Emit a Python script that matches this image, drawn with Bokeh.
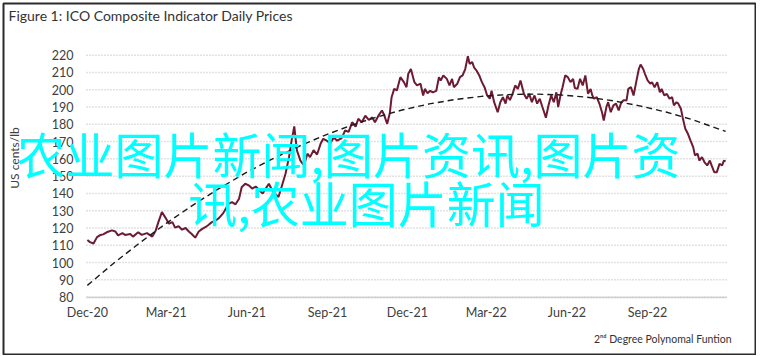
import math
import pandas as pd
from bokeh.plotting import figure
from bokeh.models import Range1d, FixedTicker, Legend, LegendItem, ColumnDataSource, Label
from bokeh.embed import file_html
from bokeh.resources import INLINE

# ---------------- data ----------------
start_date = "2020-12-01"
tick_dates = ["2020-12-01", "2021-03-01", "2021-06-01", "2021-09-01",
              "2021-12-01", "2022-03-01", "2022-06-01", "2022-09-01"]
tick_labels = ["Dec-20", "Mar-21", "Jun-21", "Sep-21",
               "Dec-21", "Mar-22", "Jun-22", "Sep-22"]
y_ticks = [80, 90, 100, 110, 120, 130, 140, 150, 160, 170, 180, 190, 200, 210, 220]

# days since start_date, ICO composite daily price (US cents/lb)
price_day = [0, 3, 7, 11, 15, 18, 22, 28, 32, 35, 40, 43, 49, 52, 58, 62, 68, 74, 78, 81,
             85, 89, 93, 97, 100, 104, 108, 112, 116, 119, 123, 127, 131, 135, 138, 142, 146, 150, 155, 161,
             165, 169, 173, 176, 180, 184, 188, 192, 196, 200, 203, 207, 212, 218, 222, 226, 230, 233, 236, 239,
             243, 247, 251, 254, 258, 262, 266, 269, 273, 277, 281, 285, 290, 294, 298, 302, 306, 309, 313, 317,
             321, 325, 328, 332, 336, 338, 342, 345, 347, 350, 353, 357, 361, 364, 366, 369, 373, 376, 380, 383,
             385, 388, 391, 394, 398, 401, 403, 406, 410, 413, 416, 418, 422, 425, 428, 431, 434, 436, 439, 441,
             444, 447, 450, 453, 456, 459, 461, 464, 468, 471, 474, 477, 479, 482, 485, 488, 491, 494, 496, 498,
             501, 504, 507, 510, 513, 516, 519, 521, 523, 526, 529, 532, 535, 537, 540, 542, 545, 548, 551, 554,
             556, 559, 562, 565, 568, 571, 574, 576, 578, 581, 584, 587, 589, 592, 594, 597, 600, 603, 606, 609,
             612, 615, 617, 620, 623, 626, 629, 631, 634, 636, 639, 642, 644, 647, 650, 653, 655, 658, 661, 664,
             667, 669, 672, 674, 677, 679, 682, 685, 688, 691, 693, 696, 698, 701, 704, 707, 710, 712, 715, 718,
             721, 724, 726, 728]
price = [113, 111.8, 111, 114.7, 116, 116.3, 117.5, 118.6, 118, 115.7, 117, 116, 116.5, 115, 117.5, 116, 117, 115, 118.6, 123.4,
         129.2, 126, 122.5, 123.4, 120.2, 121, 119, 120, 117.8, 116.5, 114.4, 118, 119.5, 120.6, 121.7, 123.4, 124.2, 125.7, 128.6, 134,
         135, 133.7, 136.9, 143.6, 145.6, 144.7, 142.8, 144, 142, 140, 142.5, 145.6, 140.7, 137.9, 144.6, 151.4, 161, 170.7, 178.8, 164.9,
         159, 156.2, 163, 161, 165, 162.5, 168.7, 171.6, 170.5, 169, 172.3, 170.5, 172, 176.4, 175.6, 181.2, 178.6, 183.2, 181.2, 185,
         182.5, 184, 181.2, 185, 188, 186, 180.3, 186.5, 195.7, 200.5, 199.6, 207.3, 204.4, 201.5, 209.2, 212, 204.4, 202.5, 203.5, 196.7,
         200.5, 198, 199.4, 198.5, 199.4, 207.3, 205.4, 208.3, 206.3, 202.5, 206.3, 201.5, 203.5, 207.3, 208.3, 212, 219.4, 215, 216, 213,
         211, 208.3, 204.4, 201.5, 196.7, 194.8, 199.4, 192.8, 187, 192.8, 195.7, 192, 196.7, 194, 197.6, 202.5, 200.5, 205.4, 201.5, 197.6,
         194.8, 197.6, 192.8, 196.7, 192, 194.8, 190, 187, 183.8, 191, 196.7, 192.8, 198.5, 190, 197.6, 201.5, 208.3, 207.3, 204.4, 206.3,
         201, 200.5, 206.3, 202.5, 208.3, 197.7, 200.5, 196.7, 194.8, 195.7, 192, 187, 182.2, 190, 192.8, 187, 191, 192, 188, 192.8,
         194, 193.8, 200.5, 201.5, 196.7, 204.4, 212, 214.6, 212, 209.2, 205.4, 203.5, 204.4, 201.5, 204.4, 198.5, 200.5, 196.7, 197.6, 194.8,
         195.7, 191, 192.8, 192, 189, 184, 177.4, 174.5, 170.5, 166.8, 162, 163, 159, 161, 158, 156.2, 159, 156.2, 152.3, 152.3,
         157.1, 156.2, 159, 158.5]

# 2nd degree polynomial trend
trend_day = [0, 30, 60, 90, 120, 150, 180, 210, 240, 270, 300, 330, 360, 390, 420, 450, 480, 510, 540,
             570, 600, 630, 660, 690, 728]
trend = [86.8, 99.6, 111.5, 122.7, 133.1, 142.8, 151.7, 159.7, 167.0, 173.5, 179.2, 184.2, 188.4, 191.8,
         194.4, 196.2, 197.2, 197.5, 197.0, 195.7, 193.6, 190.7, 187.1, 182.7, 175.9]

title_text = "Figure 1: ICO Composite Indicator Daily Prices"
y_label = "US cents/lb"
legend_label = "2ⁿᵈ Degree Polynomal Funtion"
overlay_line1 = "农业图片新闻,图片资讯,图片资"
overlay_line2 = "讯,农业图片新闻"

# ---------------- chart ----------------
t0 = pd.Timestamp(start_date)
tick_pos = [(pd.Timestamp(d) - t0).days for d in tick_dates]
x_first, x_last = -1, 729          # plotted period (days)
y_min, y_max = 80, 220             # value axis span

FONT = "Lato"
TXT = "#404040"

# The frame is the whole bordered card; both axes sit at fixed data locations
# inside it, so the header, axis labels, legend and overlay text all stay visible.
p = figure(width=756, height=355, output_backend="svg", toolbar_location=None,
           x_range=Range1d(-95.67, 762.08), y_range=Range1d(46.78, 249.92),
           min_border_left=3, min_border_right=1, min_border_top=3, min_border_bottom=1)
p.outline_line_color = "#2b2b2b"
p.outline_line_width = 2
p.background_fill_color = "white"
p.border_fill_color = "white"

# x axis
p.xaxis.fixed_location = y_min
p.xaxis.bounds = (x_first, x_last)
p.xaxis.ticker = FixedTicker(ticks=tick_pos)
p.xaxis.major_label_overrides = {k: v for k, v in zip(tick_pos, tick_labels)}
p.xaxis.axis_line_color = "#d0d0d0"
p.xaxis.axis_line_width = 1.5
p.xaxis.major_tick_line_color = None
p.xaxis.major_tick_out = 0
p.xaxis.major_tick_in = 0
p.xaxis.minor_tick_line_color = None
p.xaxis.major_label_standoff = 8
p.xaxis.major_label_text_font = FONT
p.xaxis.major_label_text_font_size = "12.5px"
p.xaxis.major_label_text_color = TXT

# y axis
p.yaxis.fixed_location = x_first
p.yaxis.bounds = (y_min, y_max)
p.yaxis.ticker = FixedTicker(ticks=y_ticks)
p.yaxis.axis_line_color = None
p.yaxis.major_tick_line_color = None
p.yaxis.major_tick_out = 0
p.yaxis.major_tick_in = 0
p.yaxis.minor_tick_line_color = None
p.yaxis.major_label_standoff = 13
p.yaxis.major_label_text_font = FONT
p.yaxis.major_label_text_font_size = "12.5px"
p.yaxis.major_label_text_color = TXT

p.xgrid.visible = False
p.ygrid.visible = False

# horizontal dotted gridlines over the plotted period
p.segment(x0=x_first, x1=x_last, y0=y_ticks, y1=y_ticks,
          line_color="#c4c4c4", line_dash="1 2", line_width=1.5)

src_price = ColumnDataSource(dict(x=price_day, y=price))
src_trend = ColumnDataSource(dict(x=trend_day, y=trend))

p.line("x", "y", source=src_price, line_color="#6d1a33", line_width=2)
p.line("x", "y", source=src_trend, line_color="#1a1a1a", line_width=1.4, line_dash="6 4")
legend_key = p.line(x=[], y=[], line_color="#1a1a1a", line_width=1.4, line_dash="3 3")

# legend at the bottom right of the card
legend = Legend(items=[LegendItem(label=legend_label, renderers=[legend_key])],
                location=(580, 9), orientation="horizontal",
                border_line_color=None, background_fill_alpha=0,
                label_text_font=FONT, label_text_font_size="10.5px", label_text_color="#333333",
                glyph_width=9, glyph_height=12, label_height=12, padding=0, margin=0,
                label_standoff=2, spacing=0)
p.add_layout(legend)

# header title & y axis label (screen px from the card's bottom-left)
p.add_layout(Label(x=5, y=339.5, x_units="screen", y_units="screen", text=title_text,
                   text_font=FONT, text_font_size="14px", text_color="#333333",
                   text_baseline="alphabetic", text_align="left"))
p.add_layout(Label(x=10.5, y=196.5, x_units="screen", y_units="screen", text=y_label,
                   angle=math.pi / 2, text_font=FONT, text_font_size="12px", text_color=TXT,
                   text_baseline="middle", text_align="center"))

# overlay text
for txt, xx, yy in [(overlay_line1, 345, 202.4), (overlay_line2, 363, 152.9)]:
    p.add_layout(Label(x=xx, y=yy, x_units="screen", y_units="screen", text=txt,
                       text_font="Noto Sans CJK SC", text_font_size="49px",
                       text_color="#00ffff", text_baseline="alphabetic", text_align="center"))

open("out.html", "w").write(file_html(p, INLINE))
